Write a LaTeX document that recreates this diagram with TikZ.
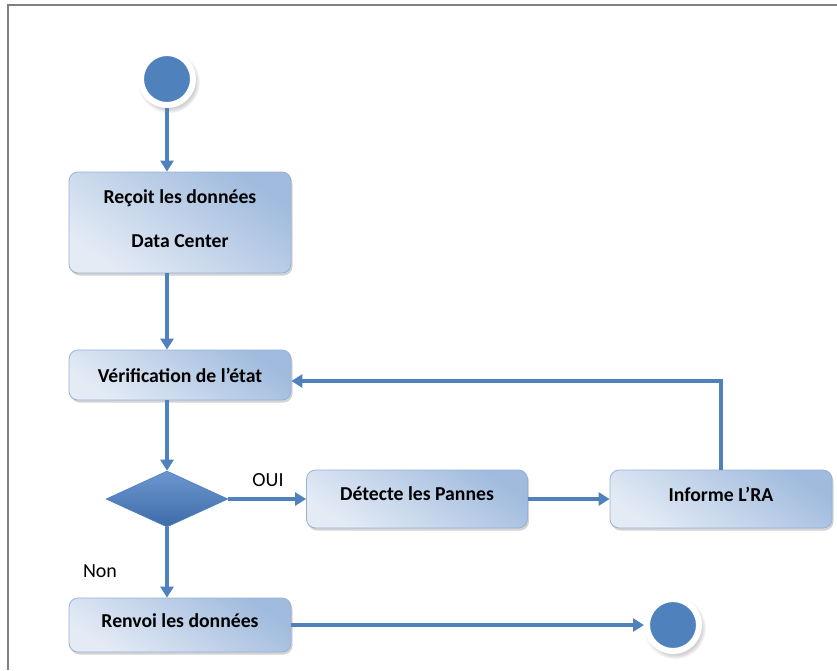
\documentclass[tikz,border=0pt]{standalone}
\usepackage{fontspec}
\setmainfont{Carlito}
\usetikzlibrary{arrows.meta,shapes.geometric,shadows}

\definecolor{flowblue}{RGB}{79,129,189}
\definecolor{boxdark}{RGB}{160,187,222}
\definecolor{boxlight}{RGB}{228,235,245}
\definecolor{boxedge}{RGB}{150,178,215}
\definecolor{diamtop}{RGB}{108,150,206}
\definecolor{diambot}{RGB}{62,108,170}
\definecolor{framegray}{RGB}{128,128,128}

\begin{document}
\begin{tikzpicture}[x=1pt,y=-1pt,
  flow/.style={draw=flowblue, line width=3.5pt, -{Triangle[width=13pt,length=11pt]}},
  actbox/.style={rectangle, rounded corners=9pt, draw=boxedge, line width=0.8pt,
    top color=boxdark, bottom color=boxlight, shading angle=-35,
    drop shadow={shadow xshift=1.5pt, shadow yshift=-2.5pt, opacity=0.35},
    minimum width=222pt, inner sep=0pt},
  boxtext/.style={font=\bfseries\fontsize{19.7}{23}\selectfont, align=center, inner sep=0pt},
  guardtext/.style={font=\fontsize{20}{24}\selectfont, inner sep=0pt},
  dot/.style={circle, fill=flowblue, minimum size=52pt, inner sep=0pt, draw=white, line width=6pt,
    circular drop shadow={shadow xshift=1.5pt, shadow yshift=-2.5pt, shadow scale=1.2, opacity=0.35}},
  choice/.style={diamond, minimum width=122pt, minimum height=56pt, inner sep=0pt,
    top color=diamtop, bottom color=diambot, draw=flowblue, line width=0.6pt}
]
\useasboundingbox (0,0) rectangle (837,670);

% outer frame
\draw[framegray, line width=1.3pt] (8,670) -- (8,5) -- (837,5);

% start and end states
\node[dot] (start) at (167,79) {};
\node[dot] (stop) at (673,625) {};

% activities
\node[actbox, minimum height=101pt] (b1) at (180,222.5) {};
\node[boxtext] (t1) at ([yshift=3.5pt]b1.center) {Reçoit les données\\[21pt]Data Center};

\node[actbox, minimum height=50pt] (b2) at (180,375) {};
\node[boxtext] (t2) at (b2.center) {Vérification de l’état};

\node[choice] (d) at (167,499) {};

\node[actbox, minimum width=221pt, minimum height=58pt] (b3) at (417,499) {};
\node[boxtext] (t3) at ([yshift=5pt]b3.center) {Détecte les Pannes};

\node[actbox, minimum height=58pt] (b4) at (721,499) {};
\node[boxtext] (t4) at ([yshift=5pt]b4.center) {Informe L’RA};

\node[actbox, minimum height=54pt] (b5) at (180,625) {};
\node[boxtext] (t5) at ([yshift=4pt]b5.center) {Renvoi les données};

% guards
\node[guardtext] (oui) at (268,480) {OUI};
\node[guardtext] (non) at (100,571) {Non};

% transitions
\draw[flow] (start) -- (start |- b1.north);
\draw[flow] (b1.south -| start) -- (b2.north -| start);
\draw[flow] (b2.south -| start) -- (d.north);
\draw[flow] (d.east) -- (b3.west |- d.east);
\draw[flow] (b3.east) -- (b4.west);
\coordinate (ret) at (722,381);
\draw[flow] (b4.north) |- (b2.east |- ret);
\draw[flow] (d.south) -- (d.south |- b5.north);
\draw[flow] (b5.east) -- (stop);
\end{tikzpicture}
\end{document}
